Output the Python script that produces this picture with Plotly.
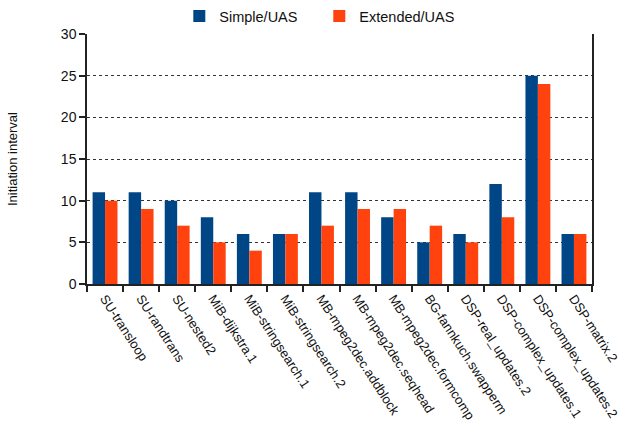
import plotly.graph_objects as go

# Benchmark kernels and their initiation intervals
kernels = [
    "SU-transloop", "SU-randtrans", "SU-nested2", "MiB-dijkstra.1",
    "MiB-stringsearch.1", "MiB-stringsearch.2", "MB-mpeg2dec.addblock",
    "MB-mpeg2dec.seqhead", "MB-mpeg2dec.formcomp", "BG-fannkuch.swapperm",
    "DSP-real_updates.2", "DSP-complex_updates.1", "DSP-complex_updates.2",
    "DSP-matrix.2",
]
simple_uas = [11, 11, 10, 8, 6, 6, 11, 11, 8, 5, 6, 12, 25, 6]
extended_uas = [10, 9, 7, 5, 4, 6, 7, 9, 9, 7, 5, 8, 24, 6]

BLUE = "#004586"
ORANGE = "#ff420e"
FONT = "Liberation Sans, Arial, sans-serif"

fig = go.Figure()
fig.add_trace(go.Bar(name="Simple/UAS", x=kernels, y=simple_uas,
                     marker=dict(color=BLUE, line=dict(width=0))))
fig.add_trace(go.Bar(name="Extended/UAS", x=kernels, y=extended_uas,
                     marker=dict(color=ORANGE, line=dict(width=0))))

fig.update_layout(
    width=626, height=431,
    margin=dict(l=87, r=34, t=34, b=147, autoexpand=False),
    paper_bgcolor="white", plot_bgcolor="white",
    barmode="group", bargap=0.31, bargroupgap=0,
    font=dict(family=FONT, size=13, color="#111111"),
    legend=dict(orientation="h", x=0.46, xanchor="center", y=1.0, yanchor="top",
                yref="container", font=dict(size=14.5),
                entrywidthmode="pixels", entrywidth=95, bgcolor="rgba(0,0,0,0)",
                tracegroupgap=0),
    showlegend=True,
    annotations=[dict(
        text="Initiation interval", textangle=-90, showarrow=False,
        xref="paper", yref="paper", x=-75 / 505, y=0.5,
        xanchor="center", yanchor="middle", font=dict(size=13),
    )],
)

fig.update_xaxes(
    type="category", tickangle=57, tickfont=dict(size=13),
    showline=True, linecolor="#222222", linewidth=1.5, mirror=False,
    ticks="outside", ticklen=6, tickcolor="#222222", tickwidth=1.5,
    tickson="boundaries", showgrid=False,
)
fig.update_yaxes(
    range=[0, 30], dtick=5, tickfont=dict(size=14),
    showline=True, linecolor="#222222", linewidth=1.5, mirror=True,
    ticks="outside", ticklen=6, tickcolor="#222222", tickwidth=1.5,
    showgrid=True, gridcolor="#333333", griddash="dot", gridwidth=1,
    zeroline=False,
)

fig.write_html("out.html")
